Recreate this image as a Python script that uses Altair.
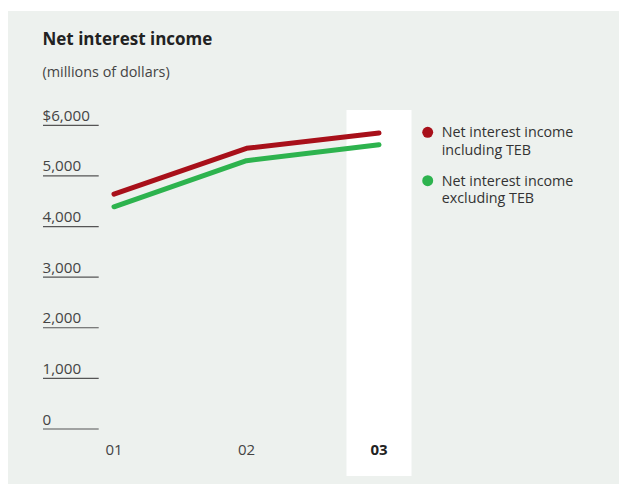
import altair as alt
import pandas as pd

# ---- data ----
years = ["01", "02", "03"]
incl_teb = [4640, 5545, 5848]
excl_teb = [4390, 5300, 5617]
series_names = ["Net interest income including TEB", "Net interest income excluding TEB"]
tick_values = [0, 1000, 2000, 3000, 4000, 5000, 6000]
tick_labels = ["0", "1,000", "2,000", "3,000", "4,000", "5,000", "$6,000"]

FONT = "Open Sans"
RED = "#A8101A"
GREEN = "#2DB34E"
PANEL = "#EDF1EE"

rows = []
for y, v in zip(years, incl_teb):
    rows.append({"year": y, "value": v, "series": series_names[0]})
for y, v in zip(years, excl_teb):
    rows.append({"year": y, "value": v, "series": series_names[1]})
df = pd.DataFrame(rows)
ticks = pd.DataFrame({"v": tick_values, "label": tick_labels})
yrs = pd.DataFrame({"year": years})

xscale = alt.Scale(type="point", domain=years, range=[114, 379], padding=0)
yscale = alt.Scale(domain=[0, 6000], range=[429, 125.3], zero=True, nice=False)

X = alt.X("year:N", scale=xscale, axis=None)

panel = alt.Chart(pd.DataFrame({"a": [0]})).mark_rect(color=PANEL).encode(
    x=alt.value(8), x2=alt.value(619), y=alt.value(11), y2=alt.value(484)
)

band = alt.Chart(yrs).mark_bar(color="white", size=65).encode(
    x=X, y=alt.value(110), y2=alt.value(476)
).transform_filter(alt.datum.year == "03")

title = alt.Chart(pd.DataFrame({"t": ["Net interest income"]})).mark_text(
    align="left", baseline="alphabetic", font=FONT, fontSize=17, fontWeight="bold", color="#222222"
).encode(x=alt.value(42.5), y=alt.value(45), text="t:N")

subtitle = alt.Chart(pd.DataFrame({"t": ["(millions of dollars)"]})).mark_text(
    align="left", baseline="alphabetic", font=FONT, fontSize=14.4, color="#444444"
).encode(x=alt.value(42.5), y=alt.value(77), text="t:N")

grid = alt.Chart(ticks).mark_rule(color="#555555", strokeWidth=1.2).encode(
    y=alt.Y("v:Q", scale=yscale, axis=None), x=alt.value(43), x2=alt.value(98.7)
)
glabels = alt.Chart(ticks).mark_text(
    align="left", baseline="alphabetic", dy=-4.5, font=FONT, fontSize=15.2, color="#444444"
).encode(y=alt.Y("v:Q", scale=yscale, axis=None), x=alt.value(42.5), text="label:N")

lines = alt.Chart(df).mark_line(strokeWidth=5, strokeCap="round", strokeJoin="round").encode(
    x=X,
    y=alt.Y("value:Q", scale=yscale, axis=None),
    color=alt.Color("series:N", scale=alt.Scale(domain=series_names, range=[RED, GREEN]), legend=None),
)

xl_normal = alt.Chart(yrs).mark_text(
    baseline="alphabetic", font=FONT, fontSize=15, color="#444444"
).encode(x=X, y=alt.value(455), text="year:N").transform_filter(alt.datum.year != "03")
xl_bold = alt.Chart(yrs).mark_text(
    baseline="alphabetic", font=FONT, fontSize=15, fontWeight="bold", color="#222222"
).encode(x=X, y=alt.value(455), text="year:N").transform_filter(alt.datum.year == "03")

def legend_item(name, color, cy):
    dot = alt.Chart(pd.DataFrame({"s": [name]})).mark_circle(size=120, color=color, opacity=1).encode(
        x=alt.value(427.7), y=alt.value(cy)
    )
    txt = alt.Chart(pd.DataFrame({"s": [name.replace("income ", "income\n")]})).mark_text(
        align="left", baseline="alphabetic", lineBreak="\n", lineHeight=17.7,
        font=FONT, fontSize=14.3, color="#333333"
    ).encode(x=alt.value(441.7), y=alt.value(cy + 5), text="s:N")
    return dot + txt

leg1 = legend_item(series_names[0], RED, 132.3)
leg2 = legend_item(series_names[1], GREEN, 180.7)

chart = alt.layer(
    panel, band, title, subtitle, grid, glabels, lines, xl_normal, xl_bold, leg1, leg2
).properties(
    width=619, height=484, padding=0, autosize=alt.AutoSizeParams(type="none"), background="white"
).configure_view(stroke=None)

chart.save("out.html", embed_options={"renderer": "svg", "actions": False})
